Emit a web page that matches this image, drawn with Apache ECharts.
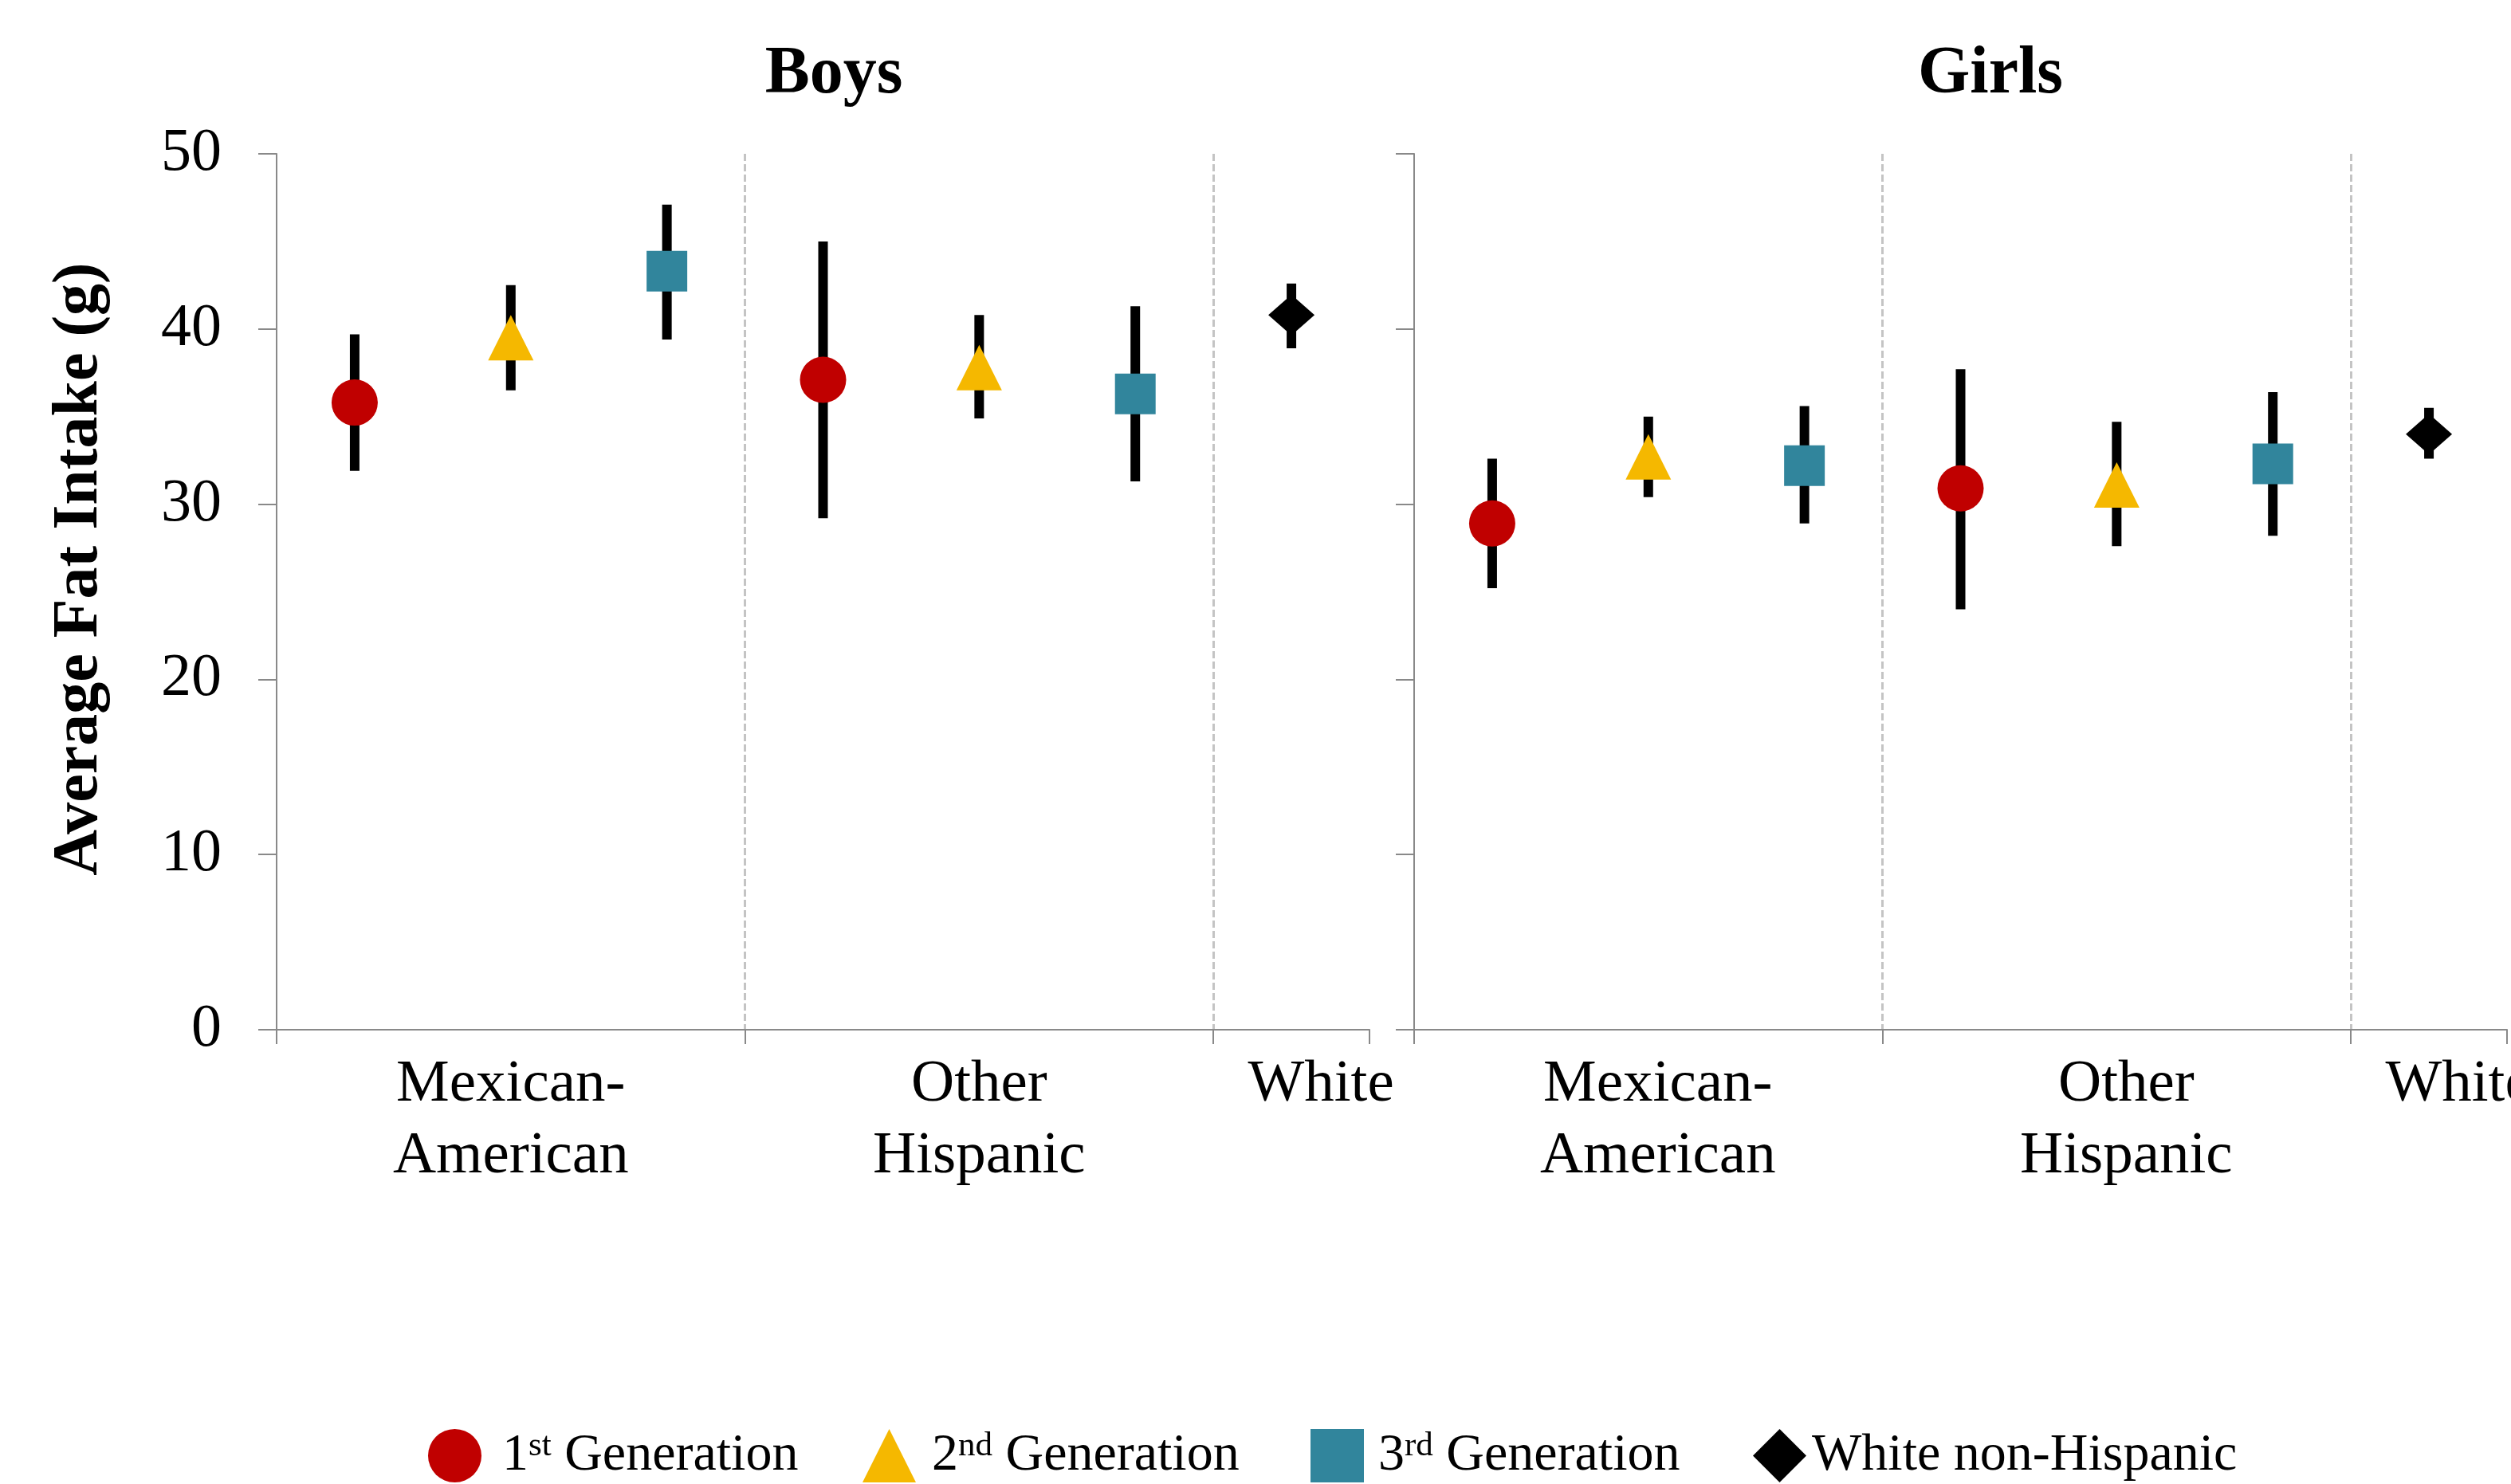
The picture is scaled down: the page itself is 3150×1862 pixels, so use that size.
<!DOCTYPE html>
<html>
<head>
<meta charset="utf-8">
<title>Average Fat Intake by Generation</title>
<script src="https://cdn.jsdelivr.net/npm/echarts@6/dist/echarts.min.js"></script>
<style>
  html, body { margin: 0; padding: 0; background: #ffffff; }
  #chart { width: 3150px; height: 1862px; }
</style>
</head>
<body>
<div id="chart"></div>
<script>
// Panels, groups and series
const panelTitles = ['Boys', 'Girls'];
const groupTickLabels = ['Mexican-\nAmerican', 'Other\nHispanic', 'White'];
const seriesNames = ['1st Generation', '2nd Generation', '3rd Generation', 'White non-Hispanic'];
const legendLabels = ['1{sup|st} Generation', '2{sup|nd} Generation', '3{sup|rd} Generation', 'White non-Hispanic'];
const yTicks = [0, 10, 20, 30, 40, 50];

// Boys: mean and 95% interval, [Mexican-American, Other Hispanic]
const boysGen1Mean = [35.8, 37.1];
const boysGen1Low = [31.9, 29.2];
const boysGen1High = [39.7, 45.0];
const boysGen2Mean = [39.5, 37.8];
const boysGen2Low = [36.5, 34.9];
const boysGen2High = [42.5, 40.8];
const boysGen3Mean = [43.3, 36.3];
const boysGen3Low = [39.4, 31.3];
const boysGen3High = [47.1, 41.3];
const boysWhiteMean = [40.8];
const boysWhiteLow = [38.9];
const boysWhiteHigh = [42.6];

// Girls: mean and 95% interval, [Mexican-American, Other Hispanic]
const girlsGen1Mean = [28.9, 30.9];
const girlsGen1Low = [25.2, 24.0];
const girlsGen1High = [32.6, 37.7];
const girlsGen2Mean = [32.7, 31.1];
const girlsGen2Low = [30.4, 27.6];
const girlsGen2High = [35.0, 34.7];
const girlsGen3Mean = [32.2, 32.3];
const girlsGen3Low = [28.9, 28.2];
const girlsGen3High = [35.6, 36.4];
const girlsWhiteMean = [34.0];
const girlsWhiteLow = [32.6];
const girlsWhiteHigh = [35.5];

// Styling
const FONT = 'Liberation Serif';
const AXIS_GRAY = '#898989';
const seriesColors = ['#C00000', '#F5B800', '#31859C', '#000000'];
const seriesSymbols = ['circle', 'triangle', 'rect', 'diamond'];
const seriesSymbolSizes = [58, 57, 51, [58, 51]];

// Per panel: one entry per series, each [means, lows, highs]
const panelData = [
  [
    [boysGen1Mean, boysGen1Low, boysGen1High],
    [boysGen2Mean, boysGen2Low, boysGen2High],
    [boysGen3Mean, boysGen3Low, boysGen3High],
    [boysWhiteMean, boysWhiteLow, boysWhiteHigh]
  ],
  [
    [girlsGen1Mean, girlsGen1Low, girlsGen1High],
    [girlsGen2Mean, girlsGen2Low, girlsGen2High],
    [girlsGen3Mean, girlsGen3Low, girlsGen3High],
    [girlsWhiteMean, girlsWhiteLow, girlsWhiteHigh]
  ]
];

// Each panel axis holds one slot per generation for the Hispanic groups, plus one slot for White
const GENS = 3;
const slotCount = GENS * 2 + 1;
const slotKeys = Array.from({ length: slotCount }, (_, i) => 'slot' + i);
function slotOf(seriesIdx, groupIdx) {
  return seriesIdx < GENS ? groupIdx * GENS + seriesIdx : GENS * 2;
}
const labelSlots = [1, 4, 6];
// horizontal nudge (px) of each group label, per panel
const labelNudges = [[0, 0, 37], [12, 12, 37]];

function labelRich(p) {
  const rich = {};
  labelNudges[p].forEach((dx, g) => {
    rich['g' + g] = {
      fontFamily: FONT, fontSize: 75, lineHeight: 90, color: '#000',
      padding: [0, 0, 0, dx * 2]
    };
  });
  return rich;
}
function slotLabel(value, index) {
  const g = labelSlots.indexOf(index);
  if (g < 0) return '';
  return groupTickLabels[g].split('\n').map(line => '{g' + g + '|' + line + '}').join('\n');
}

const gridLefts = [347, 1774];
const gridWidth = 1371;
const gridTop = 193;
const gridHeight = 1099;

const grids = gridLefts.map(l => ({
  left: l, top: gridTop, width: gridWidth, height: gridHeight,
  containLabel: false,
  outerBoundsMode: 'none'
}));

const xAxes = gridLefts.map((_, p) => ({
  type: 'category',
  gridIndex: p,
  data: slotKeys,
  boundaryGap: true,
  axisLine: { show: true, lineStyle: { color: AXIS_GRAY, width: 2 } },
  axisTick: {
    show: true, length: 18, inside: false,
    interval: (i) => i % GENS === 0 && i < slotCount,
    lineStyle: { color: AXIS_GRAY, width: 2 }
  },
  splitLine: {
    show: true,
    showMinLine: false,
    showMaxLine: false,
    interval: (i) => i % GENS === 0 && i < slotCount,
    lineStyle: { color: '#C4C4C4', width: 3, type: [9, 4] }
  },
  axisLabel: {
    interval: 0,
    formatter: slotLabel,
    fontFamily: FONT, fontSize: 75, lineHeight: 90, color: '#000',
    margin: 24,
    rich: labelRich(p)
  }
}));

const yAxes = gridLefts.map((_, p) => ({
  type: 'value',
  gridIndex: p,
  min: yTicks[0],
  max: yTicks[yTicks.length - 1],
  interval: yTicks[1] - yTicks[0],
  axisLine: { show: true, lineStyle: { color: AXIS_GRAY, width: 2 } },
  axisTick: { show: true, length: 23, inside: false, lineStyle: { color: AXIS_GRAY, width: 2 } },
  splitLine: { show: false },
  axisLabel: {
    show: p === 0,
    fontFamily: FONT, fontSize: 76, color: '#000', margin: 69
  }
}));

const series = [];
panelData.forEach((panel, p) => {
  panel.forEach(([means, lows, highs], s) => {
    // interval bars
    series.push({
      type: 'custom',
      name: seriesNames[s],
      xAxisIndex: p,
      yAxisIndex: p,
      z: 1,
      silent: true,
      encode: { x: 0, y: [1, 2] },
      data: means.map((_, g) => [slotOf(s, g), lows[g], highs[g]]),
      renderItem: (params, api) => {
        const lo = api.coord([api.value(0), api.value(1)]);
        const hi = api.coord([api.value(0), api.value(2)]);
        return {
          type: 'rect',
          shape: { x: lo[0] - 6, y: hi[1], width: 12, height: lo[1] - hi[1] },
          style: { fill: '#000000' }
        };
      }
    });
    // means
    series.push({
      type: 'scatter',
      name: seriesNames[s],
      xAxisIndex: p,
      yAxisIndex: p,
      z: 3,
      symbol: seriesSymbols[s],
      symbolSize: seriesSymbolSizes[s],
      itemStyle: { color: seriesColors[s], opacity: 1 },
      data: means.map((m, g) => [slotOf(s, g), m])
    });
  });
});

const legendLefts = [537, 1082, 1644, 2199];
const legendTextPads = [21, 15, 13, 2];
const legends = seriesNames.map((name, i) => ({
  data: [{ name: name, icon: seriesSymbols[i], itemStyle: { color: seriesColors[i] } }],
  left: legendLefts[i],
  top: 1793,
  padding: 0,
  itemWidth: 67,
  itemHeight: 67,
  selectedMode: false,
  formatter: () => legendLabels[i],
  textStyle: {
    fontFamily: FONT, fontSize: 66, color: '#000',
    padding: [0, 0, 0, legendTextPads[i]],
    rich: {
      sup: { fontFamily: FONT, fontSize: 43, color: '#000', verticalAlign: 'top', lineHeight: 43 }
    }
  }
}));

const titleCenters = [1046, 2497];
const titles = panelTitles.map((t, p) => ({
  text: t,
  left: titleCenters[p],
  top: 52,
  textAlign: 'center',
  padding: 0,
  textStyle: { fontFamily: FONT, fontSize: 84, fontWeight: 'bold', color: '#000' }
}));

const chart = echarts.init(document.getElementById('chart'), null, { renderer: 'canvas' });
chart.setOption({
  animation: false,
  backgroundColor: '#ffffff',
  title: titles,
  grid: grids,
  xAxis: xAxes,
  yAxis: yAxes,
  legend: legends,
  series: series,
  graphic: [{
    type: 'text',
    x: 100,
    y: 714,
    rotation: Math.PI / 2,
    style: {
      text: 'Average Fat Intake (g)',
      fontFamily: FONT, fontSize: 80, fontWeight: 'bold', fill: '#000',
      align: 'center', verticalAlign: 'middle'
    }
  }]
});
</script>
</body>
</html>
